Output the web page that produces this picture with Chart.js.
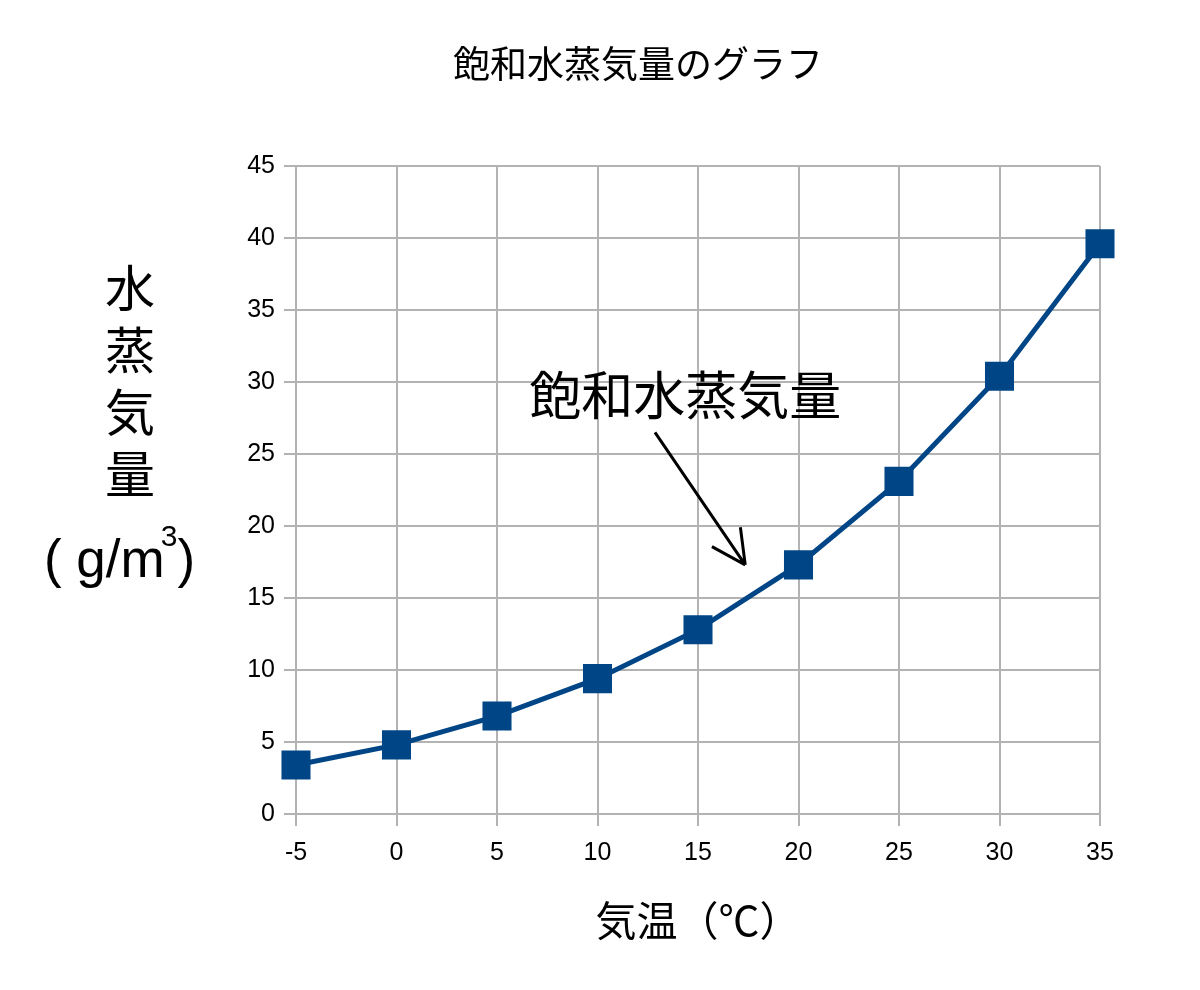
<!DOCTYPE html>
<html>
<head>
<meta charset="utf-8">
<script src="https://cdn.jsdelivr.net/npm/chart.js@4"></script>
<style>
  html, body { margin: 0; padding: 0; background: #fff; }
  #wrap { width: 1200px; height: 990px; }
</style>
</head>
<body>
<div id="wrap"><canvas id="myChart" width="1200" height="990"></canvas></div>
<script>
// 気温（℃）と飽和水蒸気量（g/m3）
const temps = [-5, 0, 5, 10, 15, 20, 25, 30, 35];
const vapor = [3.4, 4.8, 6.8, 9.4, 12.8, 17.3, 23.1, 30.4, 39.6];

const titleText = '飽和水蒸気量のグラフ';
const xTitle = '気温（℃）';
const yTitleChars = ['水', '蒸', '気', '量'];
const noteText = '飽和水蒸気量';
// 注記の位置（データ座標）
const notePos = [6.6, 29.1];
const arrowFrom = [12.86, 26.5];
const arrowTo = [17.35, 17.3];

const jp = '"Noto Sans CJK JP", sans-serif';
const sans = '"Liberation Sans", Arial, sans-serif';
const gridColor = '#b3b3b3';

// タイトル、縦軸ラベル、矢印を描く
const extras = {
  id: 'extras',
  afterDraw(chart) {
    const ctx = chart.ctx;
    const xs = chart.scales.x, ys = chart.scales.y;
    ctx.save();
    ctx.fillStyle = '#000';
    ctx.textAlign = 'center';
    ctx.textBaseline = 'middle';
    ctx.font = '37px ' + jp;
    ctx.fillText(titleText, 638, 64);

    ctx.font = '50px ' + jp;
    yTitleChars.forEach((c, i) => ctx.fillText(c, 130, 288 + i * 62));

    ctx.textAlign = 'left';
    ctx.font = '53px ' + sans;
    ctx.fillText('( g/m', 44, 562);
    let w = ctx.measureText('( g/m').width;
    ctx.font = '30px ' + sans;
    ctx.fillText('3', 44 + w - 4, 538);
    let w3 = ctx.measureText('3').width;
    ctx.font = '53px ' + sans;
    ctx.fillText(')', 44 + w - 4 + w3, 562);

    // 注記
    ctx.font = '52px ' + jp;
    ctx.fillText(noteText, xs.getPixelForValue(notePos[0]), ys.getPixelForValue(notePos[1]));

    const x0 = xs.getPixelForValue(arrowFrom[0]), y0 = ys.getPixelForValue(arrowFrom[1]);
    const x1 = xs.getPixelForValue(arrowTo[0]), y1 = ys.getPixelForValue(arrowTo[1]);
    const ang = Math.atan2(y1 - y0, x1 - x0);
    ctx.strokeStyle = '#000';
    ctx.lineWidth = 3;
    ctx.beginPath();
    ctx.moveTo(x0, y0);
    ctx.lineTo(x1, y1);
    [0.47, -0.47].forEach(a => {
      ctx.moveTo(x1, y1);
      ctx.lineTo(x1 - 38 * Math.cos(ang + a), y1 - 38 * Math.sin(ang + a));
    });
    ctx.stroke();
    ctx.restore();
  }
};

new Chart(document.getElementById('myChart'), {
  type: 'line',
  data: {
    datasets: [{
      data: temps.map((t, i) => ({ x: t, y: vapor[i] })),
      borderColor: '#004586',
      backgroundColor: '#004586',
      borderWidth: 5,
      pointStyle: 'rect',
      pointRadius: 17,
      pointHoverRadius: 17,
      tension: 0,
      clip: false
    }]
  },
  options: {
    responsive: false,
    animation: false,
    layout: { padding: { top: 166, right: 100, left: 0, bottom: 0 } },
    plugins: { legend: { display: false }, tooltip: { enabled: false } },
    scales: {
      x: {
        type: 'linear',
        min: -5, max: 35,
        afterFit: s => { s.height = 176; },
        ticks: { stepSize: 5, color: '#000', font: { family: sans, size: 25 }, padding: 12, maxRotation: 0 },
        grid: { color: gridColor, lineWidth: 2, tickLength: 12 },
        border: { color: gridColor, width: 2 },
        title: { display: true, text: xTitle, color: '#000', font: { family: jp, size: 41 }, padding: { bottom: 45 } }
      },
      y: {
        min: 0, max: 45,
        afterFit: s => { s.width = 296; },
        ticks: { stepSize: 5, color: '#000', font: { family: sans, size: 25 }, padding: 9 },
        grid: { color: gridColor, lineWidth: 2, tickLength: 12 },
        border: { color: gridColor, width: 2 }
      }
    }
  },
  plugins: [extras]
});
</script>
</body>
</html>
